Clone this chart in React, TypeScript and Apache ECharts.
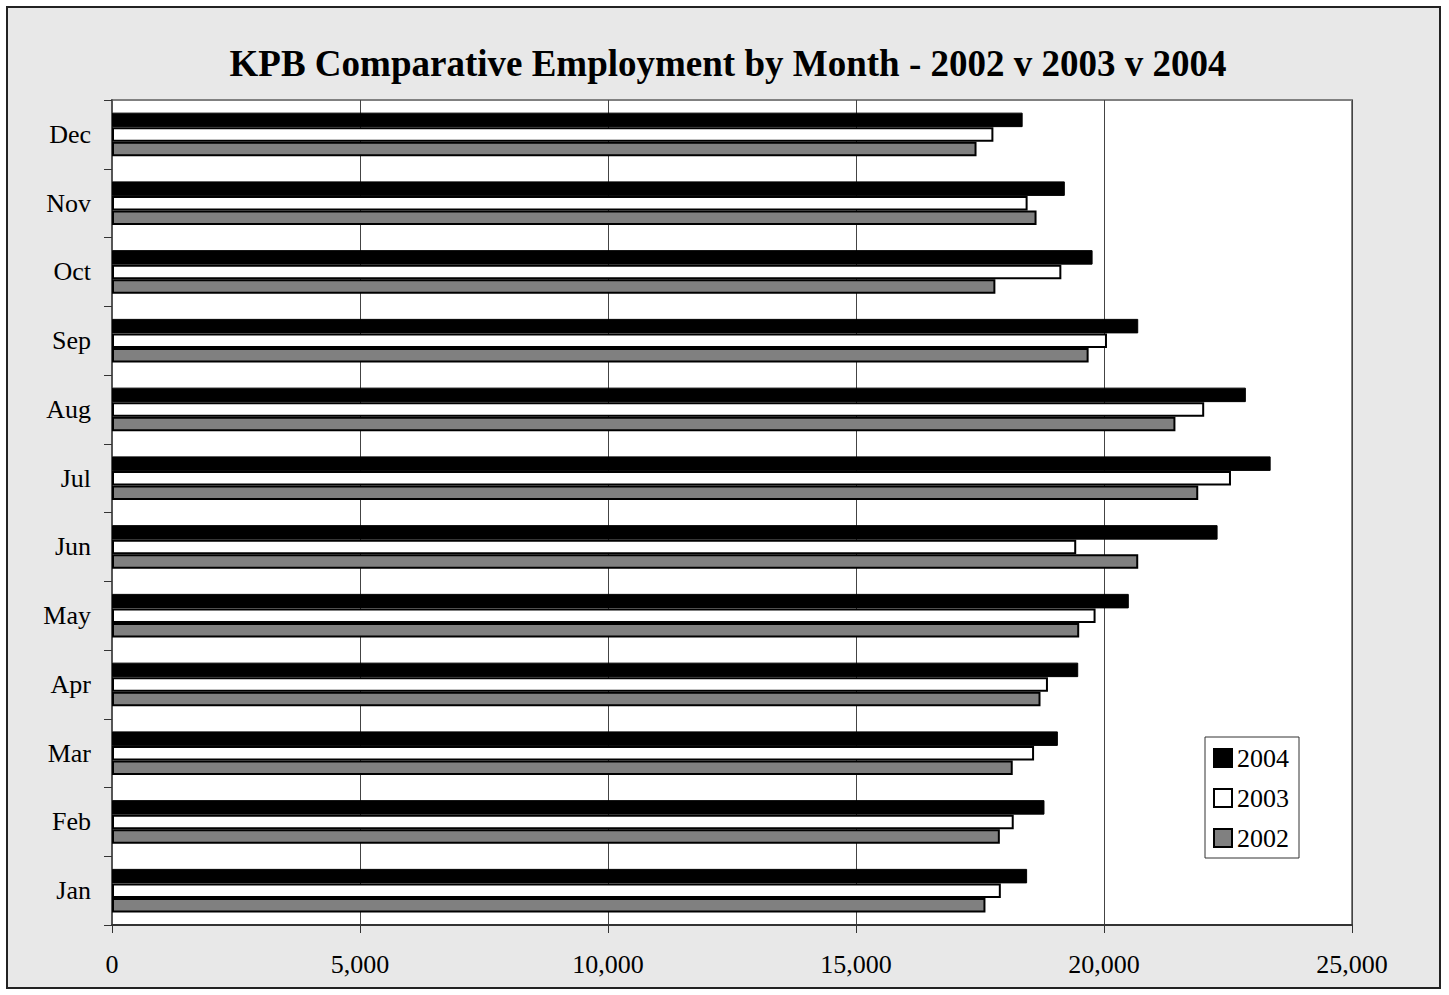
import React, { useEffect, useRef } from "react";
import * as echarts from "echarts";

const months = ["Jan", "Feb", "Mar", "Apr", "May", "Jun", "Jul", "Aug", "Sep", "Oct", "Nov", "Dec"];
const y2004 = [18450, 18800, 19070, 19480, 20500, 22290, 23360, 22860, 20690, 19770, 19210, 18360];
const y2003 = [17920, 18180, 18590, 18870, 19830, 19440, 22560, 22020, 20060, 19140, 18460, 17770];
const y2002 = [17610, 17900, 18160, 18720, 19500, 20690, 21900, 21440, 19690, 17810, 18640, 17430];
const xTicks = [0, 5000, 10000, 15000, 20000, 25000];

const FONT = "'Liberation Serif', 'Times New Roman', serif";

export default function App() {
  const ref = useRef<HTMLDivElement>(null);
  useEffect(() => {
    if (!ref.current) return;
    const chart = echarts.init(ref.current, undefined, { renderer: "svg" });
    const fmt = (v: number) => v.toLocaleString("en-US");
    chart.setOption({
      animation: false,
      backgroundColor: "#ffffff",
      textStyle: { fontFamily: FONT },
      graphic: [
        {
          type: "rect",
          z: -100,
          shape: { x: 7, y: 7, width: 1433, height: 981 },
          style: { fill: "#e8e8e8", stroke: "#222222", lineWidth: 2 },
        },
      ],
      title: {
        text: "KPB Comparative Employment by Month - 2002 v 2003 v 2004",
        left: 723,
        textAlign: "center",
        top: 40,
        textStyle: { fontFamily: FONT, fontSize: 37, fontWeight: "bold", color: "#000" },
      },
      legend: {
        orient: "vertical",
        left: 1205,
        top: 737,
        data: ["2004", "2003", "2002"],
        backgroundColor: "#ffffff",
        borderColor: "#333333",
        borderWidth: 1,
        padding: [8, 10, 7, 8],
        itemGap: 14,
        itemWidth: 18,
        itemHeight: 18,
        icon: "rect",
        textStyle: { fontFamily: FONT, fontSize: 26, color: "#000", padding: [0, 0, 0, 0] },
      },
      grid: {
        left: 112,
        top: 100,
        width: 1240,
        height: 825,
        show: true,
        backgroundColor: "#ffffff",
        borderColor: "#808080",
        borderWidth: 2,
      },
      xAxis: {
        type: "value",
        min: 0,
        max: 25000,
        interval: 5000,
        axisLine: { show: true, lineStyle: { color: "#333333", width: 2 } },
        axisTick: { show: true, length: 8, lineStyle: { color: "#333333", width: 1 } },
        splitLine: { show: true, lineStyle: { color: "#444444", width: 1 } },
        axisLabel: {
          fontFamily: FONT,
          fontSize: 26,
          color: "#000",
          margin: 26,
          formatter: (v: number) => (xTicks.includes(v) ? fmt(v) : ""),
        },
      },
      yAxis: {
        type: "category",
        data: months,
        axisLine: { show: true, lineStyle: { color: "#555555", width: 2 } },
        axisTick: { show: true, length: 8, lineStyle: { color: "#333333", width: 1 } },
        axisLabel: { fontFamily: FONT, fontSize: 26, color: "#000", margin: 21 },
        splitLine: { show: false },
      },
      series: [
        {
          name: "2004",
          type: "bar",
          data: y2004,
          barWidth: 14.5,
          barGap: "0%",
          itemStyle: { color: "#000000", borderColor: "#000000", borderWidth: 1 },
        },
        {
          name: "2003",
          type: "bar",
          data: y2003,
          barWidth: 14.5,
          barGap: "0%",
          itemStyle: { color: "#ffffff", borderColor: "#000000", borderWidth: 2 },
        },
        {
          name: "2002",
          type: "bar",
          data: y2002,
          barWidth: 14.5,
          barGap: "0%",
          itemStyle: { color: "#808080", borderColor: "#000000", borderWidth: 2 },
        },
      ],
    });
    return () => chart.dispose();
  }, []);
  return (
    <div
      ref={ref}
      style={{ position: "absolute", left: 0, top: 0, width: 1449, height: 995 }}
    />
  );
}
